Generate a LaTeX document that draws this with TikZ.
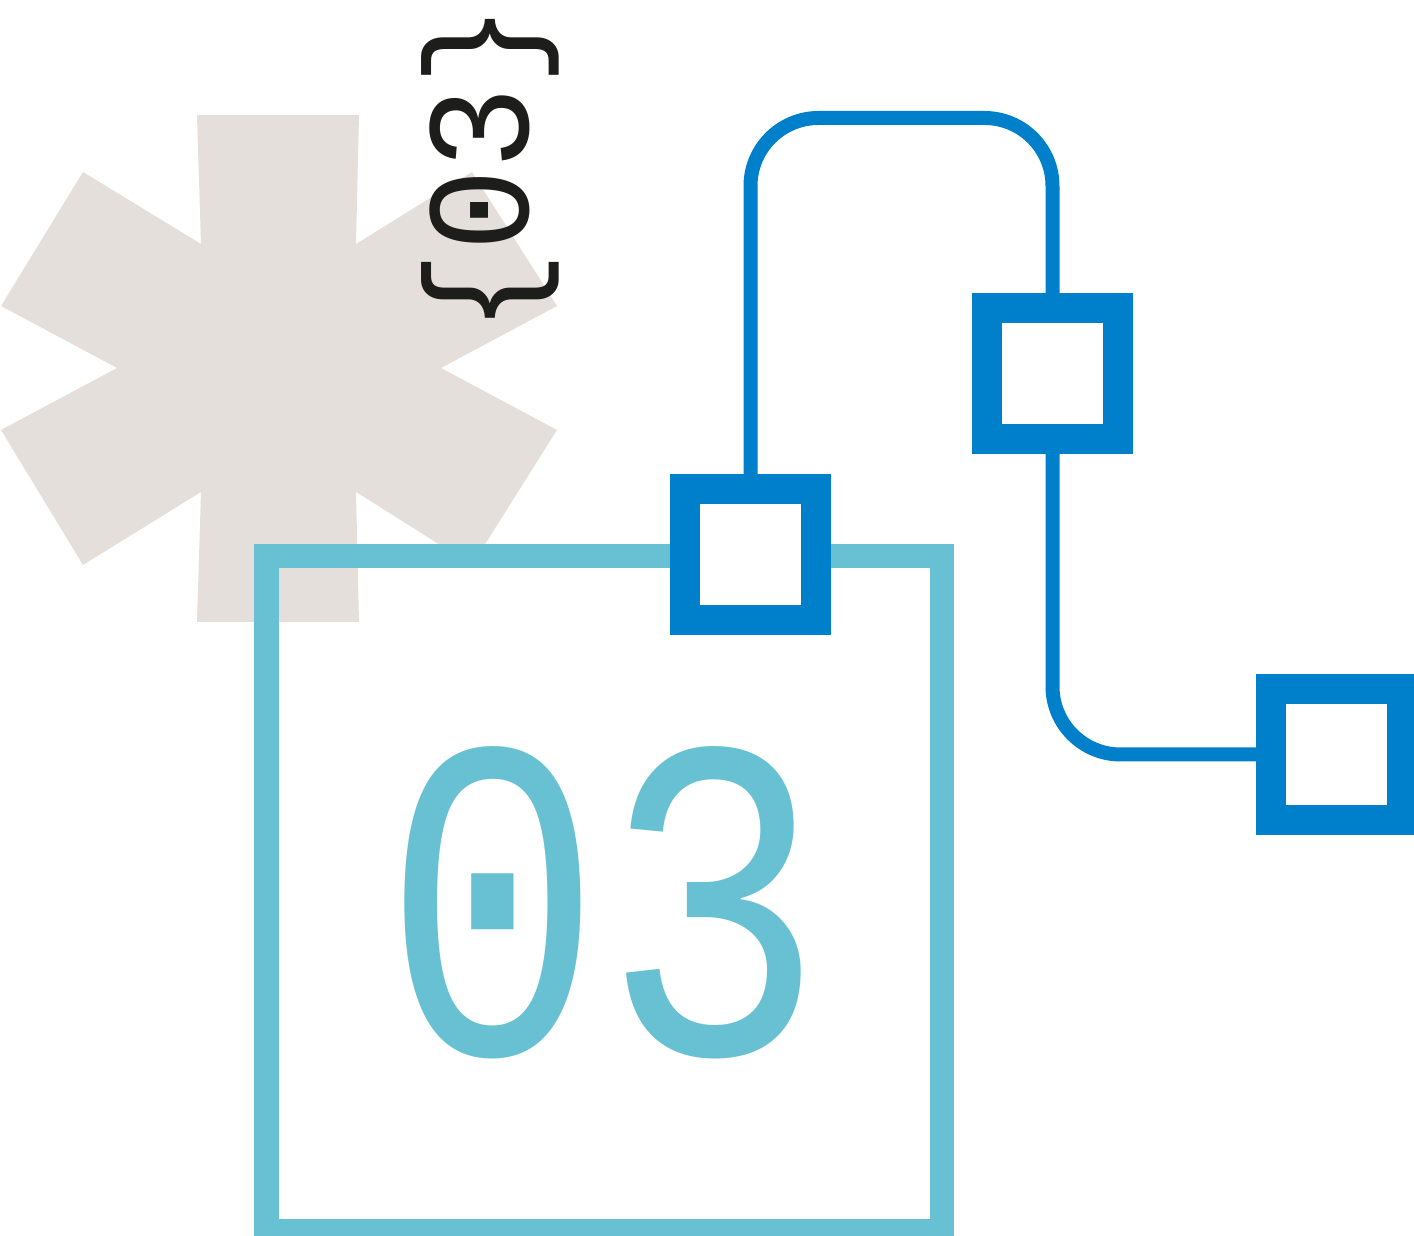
\documentclass[tikz,border=0pt]{standalone}
\usepackage{fontspec}
\setmonofont{Liberation Mono}
\usetikzlibrary{positioning}
\definecolor{Asterisk}{HTML}{E5DFDB}
\definecolor{Teal}{HTML}{68C1D3}
\definecolor{Blue}{HTML}{0080CB}
\definecolor{Ink}{HTML}{1D1D1B}

\begin{document}
\begin{tikzpicture}[
  port/.style={rectangle,draw=Blue,fill=white,line width=0.3cm,minimum size=1.31cm,inner sep=0pt},
  wire/.style={draw=Blue,line width=0.14cm,rounded corners=0.68cm},
  panel/.style={rectangle,draw=Teal,line width=0.245cm,minimum width=6.755cm,minimum height=6.75cm,inner sep=0pt},
  bignum/.style={text=Teal,font=\ttfamily\fontsize{131}{131}\selectfont,inner sep=0pt,transform shape},
  tag/.style={text=Ink,font=\ttfamily\fontsize{42}{42}\selectfont,inner sep=0pt,transform shape}
]
\useasboundingbox (0,0) rectangle (14.14,12.36);
% asterisk
\fill[Asterisk] (1.97,11.21) -- (3.59,11.21) -- (3.56,9.92) -- (4.72,10.64) -- (5.57,9.30) -- (4.41,8.68) -- (5.57,8.06) -- (4.72,6.71) -- (3.56,7.44) -- (3.59,6.14) -- (1.97,6.14) -- (2.01,7.44) -- (0.83,6.71) -- (0.01,8.06) -- (1.17,8.68) -- (0.01,9.30) -- (0.83,10.64) -- (2.01,9.92) -- cycle;
\node[tag,rotate=90,xscale=0.93] (label) at (4.90,10.67) {\{03\}};
\node[panel] (box) at (6.04,3.425) {};
\node[bignum,xscale=0.8] (num) at (6.04,3.33) {03};
\node[port] (p1) at (7.505,6.815) {};
\node[port] (p2) at (10.525,8.625) {};
\node[port] (p3) at (13.368,4.815) {};
\coordinate (top) at (9,11.18);
\coordinate (elbow) at (p2 |- p3);
\draw[wire] (p1.north) |- (top) -| (p2.north);
\draw[wire] (p2.south) -- (elbow) -- (p3.west);
\end{tikzpicture}
\end{document}
